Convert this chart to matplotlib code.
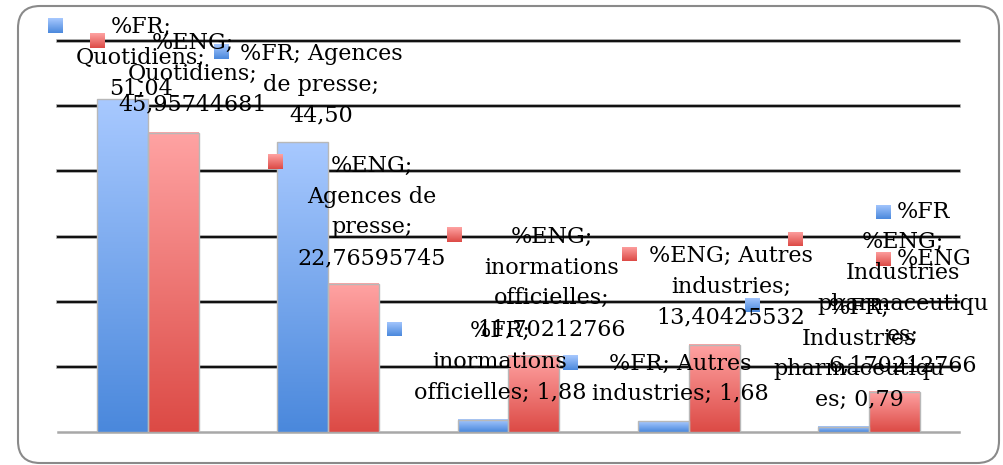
import numpy as np
import matplotlib.pyplot as plt
from matplotlib.patches import FancyBboxPatch
from matplotlib.colors import LinearSegmentedColormap

# données
categories = ['Quotidiens', 'Agences de presse', 'inormations officielles',
              'Autres industries', 'Industries pharmaceutiques']
fr = [51.04, 44.50, 1.88, 1.68, 0.79]
eng = [45.95744681, 22.76595745, 11.70212766, 13.40425532, 6.170212766]

fr_labels = ['%FR;\nQuotidiens;\n51,04',
             '%FR; Agences\nde presse;\n44,50',
             '%FR;\ninormations\nofficielles; 1,88',
             '%FR; Autres\nindustries; 1,68',
             '%FR;\nIndustries\npharmaceutiqu\nes; 0,79']
eng_labels = ['%ENG;\nQuotidiens;\n45,95744681',
              '%ENG;\nAgences de\npresse;\n22,76595745',
              '%ENG;\ninormations\nofficielles;\n11,70212766',
              '%ENG; Autres\nindustries;\n13,40425532',
              '%ENG;\nIndustries\npharmaceutiqu\nes;\n6,170212766']

# position des étiquettes (pixels)
fr_text_pos = [(141, 58), (321, 85), (500, 362), (680, 379), (859, 354)]
fr_key_pos = [(56, 26), (221, 52), (395, 329), (571, 362), (753, 305)]
eng_text_pos = [(193, 74), (372, 212), (552, 283), (731, 287), (903, 304)]
eng_key_pos = [(97, 41), (276, 162), (455, 235), (630, 254), (796, 239)]

W, H = 1004, 465
cmap_fr = LinearSegmentedColormap.from_list('fr', ['#a8c9ff', '#4a88dc'])
cmap_eng = LinearSegmentedColormap.from_list('eng', ['#ffa3a3', '#dc4a45'])
grad = np.linspace(0, 1, 256).reshape(-1, 1)

fig = plt.figure(figsize=(W / 100, H / 100), dpi=100)

# cadre arrondi
cadre = FancyBboxPatch((18 / W, 1 - 463 / H), 981 / W, 457 / H,
                       boxstyle='round,pad=0,rounding_size=0.022',
                       transform=fig.transFigure, facecolor='white',
                       edgecolor='#8a8a8a', lw=1.5, mutation_aspect=W / H, zorder=-5)
fig.patches.append(cadre)

ax = fig.add_axes([58 / W, 1 - 432 / H, 901 / W, 391 / H])
ax.set_facecolor('none')
x = np.arange(len(categories))
w = 0.283

for y in range(10, 61, 10):
    ax.axhline(y, color='#a0a0a0', lw=2.6, zorder=1, clip_on=False)
    ax.axhline(y, color='#111111', lw=1.5, zorder=1, clip_on=False)
ax.axhline(0, color='#a8a8a8', lw=1.8, zorder=1, clip_on=False)

barres_fr = ax.bar(x - w / 2, fr, w, facecolor='none', edgecolor='#b8b8b8', lw=1, zorder=3)
barres_eng = ax.bar(x + w / 2, eng, w, facecolor='none', edgecolor='#b8b8b8', lw=1, zorder=3)
for barres, cm in [(barres_fr, cmap_fr), (barres_eng, cmap_eng)]:
    for b in barres:
        ax.imshow(grad, cmap=cm, aspect='auto', zorder=2,
                  extent=(b.get_x(), b.get_x() + b.get_width(), 0, b.get_height()))

ax.set_xlim(-0.5, 4.5)
ax.set_ylim(0, 60)
ax.axis('off')


def carre(px, py, cm, taille=15):
    k = fig.add_axes([(px - taille / 2) / W, 1 - (py + taille / 2) / H, taille / W, taille / H])
    k.imshow(grad, cmap=cm, aspect='auto')
    k.axis('off')


police = dict(family='DejaVu Serif', fontsize=16, ha='center', va='center',
              multialignment='center', linespacing=1.52)

for lab, (tx, ty), (kx, ky) in zip(fr_labels, fr_text_pos, fr_key_pos):
    fig.text(tx / W, 1 - ty / H, lab, zorder=10, **police)
    carre(kx, ky, cmap_fr)
for lab, (tx, ty), (kx, ky) in zip(eng_labels, eng_text_pos, eng_key_pos):
    fig.text(tx / W, 1 - ty / H, lab, zorder=10, **police)
    carre(kx, ky, cmap_eng)

# légende
carre(884, 212, cmap_fr)
carre(884, 259, cmap_eng)
fig.text(897 / W, 1 - 212 / H, '%FR', family='DejaVu Serif', fontsize=16, va='center')
fig.text(897 / W, 1 - 259 / H, '%ENG', family='DejaVu Serif', fontsize=16, va='center')

plt.savefig('out.png', dpi=100)
